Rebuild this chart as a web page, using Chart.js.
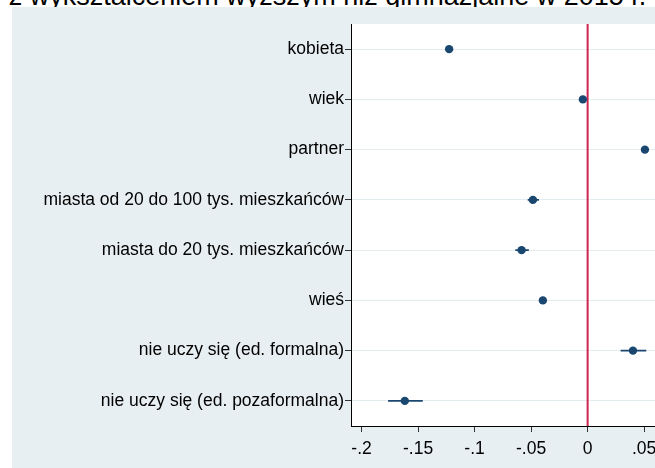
<!DOCTYPE html>
<html>
<head>
<meta charset="utf-8">
<script src="https://cdn.jsdelivr.net/npm/chart.js@4"></script>
<style>
  html, body { margin:0; padding:0; width:655px; height:468px; overflow:hidden; background:#ffffff; }
  #title { position:absolute; left:0; top:-19px; width:655px; text-align:center; font-family:"Liberation Sans", Arial, sans-serif; font-size:27px; line-height:30px; color:#000; white-space:nowrap; }
  #panel { position:absolute; left:12px; top:7px; width:643px; height:461px; background:#e8eff2; overflow:hidden; }
  canvas { position:absolute; left:0; top:0; }
</style>
</head>
<body>
<div id="title">z wykształceniem wyższym niż gimnazjalne w 2015 r.</div>
<div id="panel"><canvas id="c" width="643" height="461"></canvas></div>
<script>
const categories = [
  'kobieta',
  'wiek',
  'partner',
  'miasta od 20 do 100 tys. mieszkańców',
  'miasta do 20 tys. mieszkańców',
  'wieś',
  'nie uczy się (ed. formalna)',
  'nie uczy się (ed. pozaformalna)'
];
const estimates = [-0.1225, -0.0042, 0.0507, -0.0484, -0.0584, -0.0396, 0.0401, -0.1617];
const ciLow     = [-0.1245, -0.0052, 0.0485, -0.0530, -0.0640, -0.0425, 0.0292, -0.1765];
const ciHigh    = [-0.1205, -0.0032, 0.0530, -0.0430, -0.0520, -0.0367, 0.0519, -0.1458];
const xTickValues = [-0.2, -0.15, -0.1, -0.05, 0, 0.05];
const xTickLabels = ['-.2', '-.15', '-.1', '-.05', '0', '.05'];
const referenceLine = 0;

const navy = '#1a476f';
const FONT = { family: '"Liberation Sans", Arial, sans-serif', size: 17.5 };

const ciDatasets = categories.map((cat, i) => ({
  type: 'line',
  data: [{ x: ciLow[i], y: cat }, { x: ciHigh[i], y: cat }],
  borderColor: navy,
  borderWidth: 1.6,
  pointRadius: 0,
  showLine: true,
  fill: false
}));

const pointDataset = {
  type: 'scatter',
  data: categories.map((cat, i) => ({ x: estimates[i], y: cat })),
  backgroundColor: navy,
  borderColor: navy,
  borderWidth: 0,
  pointRadius: 4.2,
  pointHoverRadius: 4.2
};

const bgPlugin = {
  id: 'plotbg',
  beforeDraw(chart) {
    const { ctx, chartArea: a } = chart;
    ctx.save();
    ctx.fillStyle = '#ffffff';
    ctx.fillRect(a.left, a.top, a.right - a.left, a.bottom - a.top);
    ctx.restore();
  },
  beforeDatasetsDraw(chart) {
    const { ctx, chartArea: a, scales } = chart;
    const x = scales.x.getPixelForValue(referenceLine);
    ctx.save();
    ctx.strokeStyle = '#d0234d';
    ctx.lineWidth = 2;
    ctx.beginPath();
    ctx.moveTo(x, a.top);
    ctx.lineTo(x, a.bottom);
    ctx.stroke();
    ctx.restore();
  }
};

new Chart(document.getElementById('c'), {
  type: 'scatter',
  data: { datasets: [...ciDatasets, pointDataset] },
  plugins: [bgPlugin],
  options: {
    responsive: false,
    animation: false,
    events: [],
    layout: { autoPadding: false, padding: { top: 17, left: 0, right: 0, bottom: 0 } },
    plugins: { legend: { display: false }, tooltip: { enabled: false }, title: { display: false } },
    scales: {
      x: {
        type: 'linear',
        min: -0.2093,
        max: 0.0596,
        afterBuildTicks(scale) { scale.ticks = xTickValues.map(v => ({ value: v })); },
        afterFit(scale) { scale.height = 42; scale.paddingLeft = 0; scale.paddingRight = 0; },
        ticks: {
          color: '#000',
          font: FONT,
          padding: 7,
          maxRotation: 0,
          autoSkip: false,
          callback: (v) => { const i = xTickValues.findIndex(t => Math.abs(t - v) < 1e-9); return i >= 0 ? xTickLabels[i] : ''; }
        },
        grid: { drawOnChartArea: false, drawTicks: true, tickLength: 6, tickColor: '#333', tickWidth: 1 },
        border: { display: true, color: '#000', width: 1 }
      },
      y: {
        type: 'category',
        labels: categories,
        offset: true,
        afterFit(scale) { scale.width = 339; scale.paddingTop = 0; scale.paddingBottom = 0; },
        ticks: { color: '#000', font: FONT, padding: 1, autoSkip: false },
        grid: { offset: false, color: '#e4ecef', lineWidth: 1, drawTicks: true, tickLength: 6, tickColor: '#333', tickWidth: 1 },
        border: { display: true, color: '#000', width: 1 }
      }
    }
  }
});
</script>
</body>
</html>
